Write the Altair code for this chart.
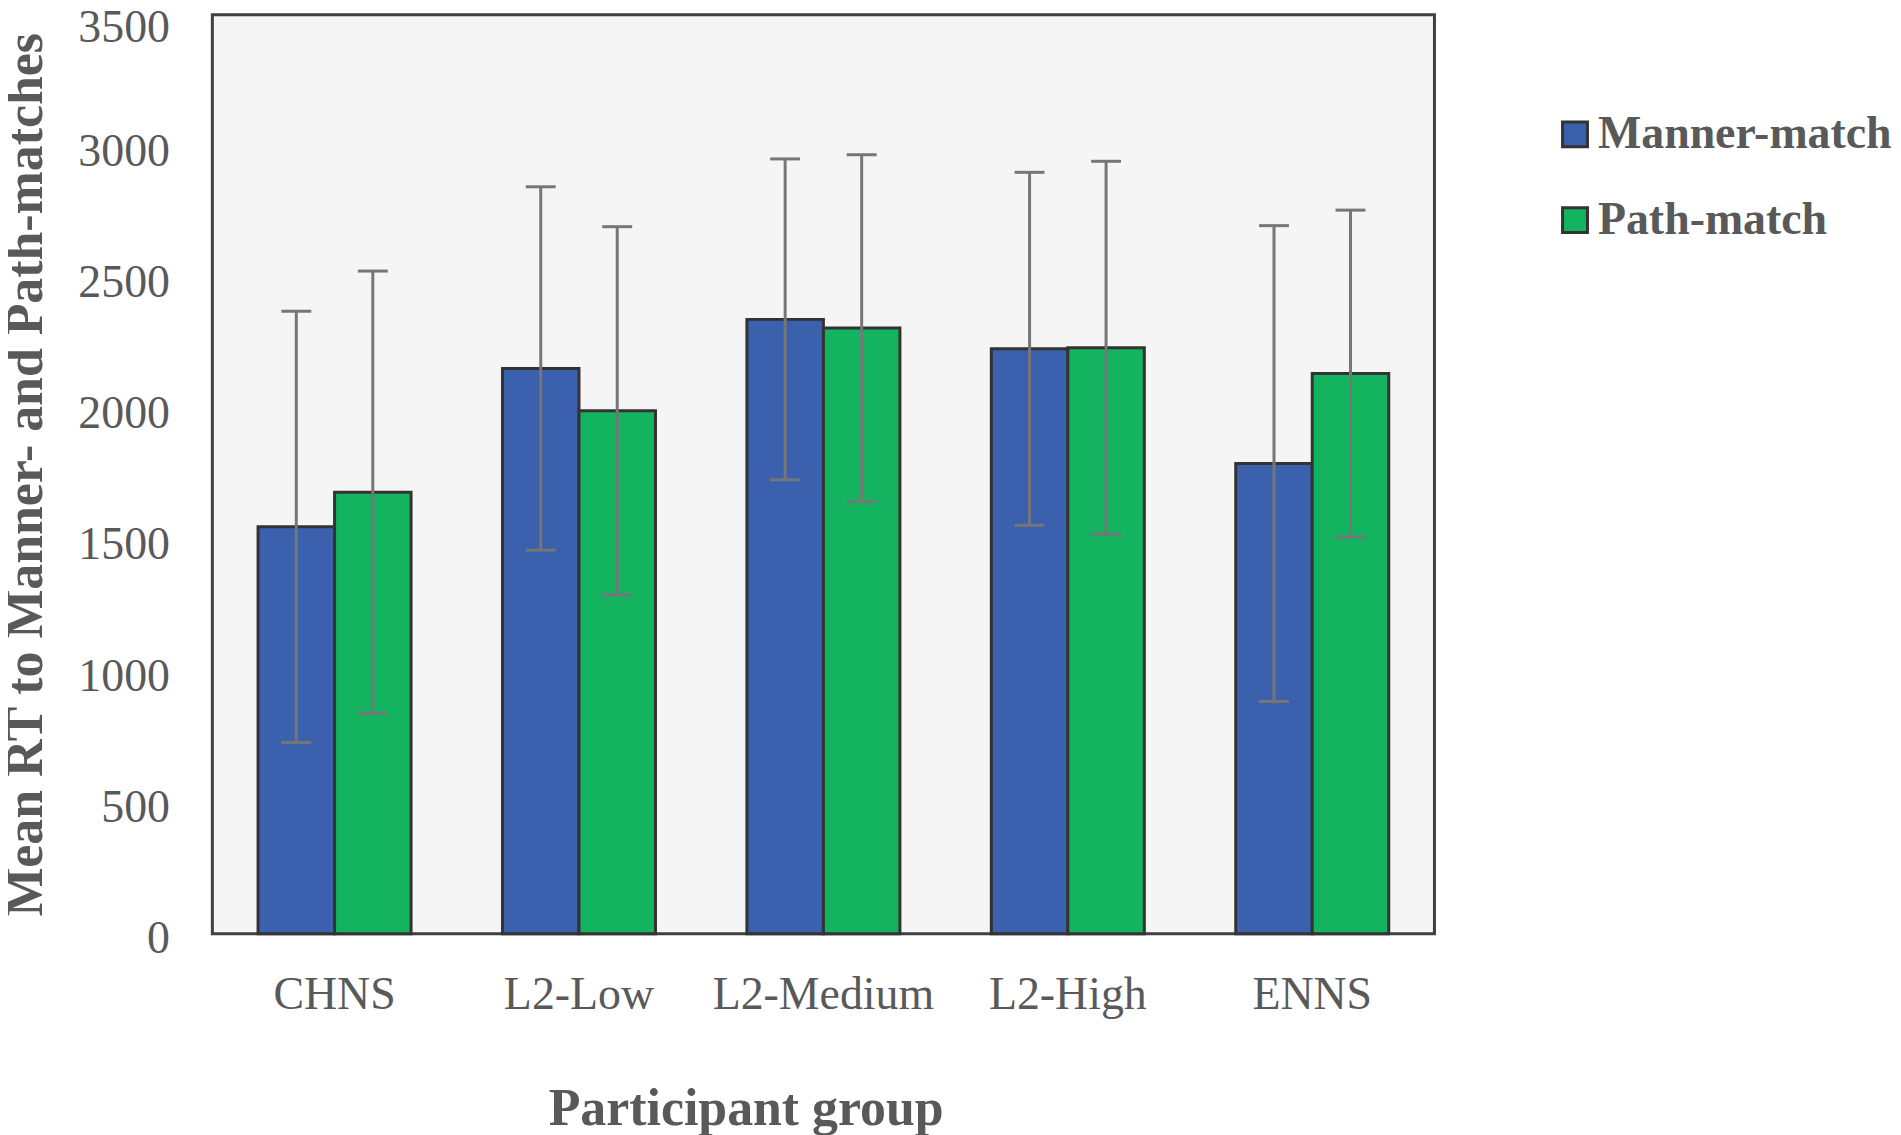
import altair as alt
import pandas as pd

groups = ["CHNS", "L2-Low", "L2-Medium", "L2-High", "ENNS"]
conditions = ["Manner-match", "Path-match"]
manner_mean = [1550, 2153, 2340, 2228, 1791]
manner_err = [821, 692, 611, 672, 906]
path_mean = [1682, 1992, 2307, 2232, 2134]
path_err = [842, 701, 660, 710, 622]
y_ticks = [0, 500, 1000, 1500, 2000, 2500, 3000, 3500]

rows = []
for i, g in enumerate(groups):
    rows.append(dict(group=g, cond=conditions[0], mean=manner_mean[i],
                     low=manner_mean[i] - manner_err[i], high=manner_mean[i] + manner_err[i]))
    rows.append(dict(group=g, cond=conditions[1], mean=path_mean[i],
                     low=path_mean[i] - path_err[i], high=path_mean[i] + path_err[i]))
df = pd.DataFrame(rows)

SERIF = "Liberation Serif"
TXT = "#595959"
ERR = "#767676"
Y_TITLE = "Mean RT to Manner- and Path-matches"
X_TITLE = "Participant group"

xscale = alt.Scale(domain=groups, paddingInner=0.374, paddingOuter=0.187)
xoff = alt.XOffset("cond:N", sort=conditions, scale=alt.Scale(domain=conditions, paddingInner=0, paddingOuter=0))
yscale = alt.Scale(domain=[0, 3500], nice=False, zero=True)

x_axis = alt.Axis(title=X_TITLE, labelAngle=0, labelFont=SERIF,
                  labelFontSize=46, labelColor=TXT, labelPadding=39, ticks=False,
                  domain=False, titleFont=SERIF, titleFontSize=52, titleFontWeight="bold",
                  titleColor=TXT, titlePadding=66, labelLimit=400,
                  titleX=535, titleAlign="center")
y_axis = alt.Axis(title=Y_TITLE, values=y_ticks, format="d",
                  grid=False, ticks=False, domain=False, labelFont=SERIF,
                  labelFontSize=46, labelColor=TXT, labelPadding=43,
                  labelOffset={"expr": "datum.value >= 3500 ? 13 : 5"},
                  titleFont=SERIF, titleFontSize=52, titleFontWeight="bold",
                  titleColor=TXT, titlePadding=25)

X = alt.X("group:N", sort=groups, scale=xscale, axis=x_axis, title=X_TITLE)

base = alt.Chart(df)

bars = base.mark_bar(stroke="#333333", strokeWidth=3, opacity=1).encode(
    x=X,
    xOffset=xoff,
    y=alt.Y("mean:Q", scale=yscale, axis=y_axis, title=Y_TITLE),
    color=alt.Color("cond:N", sort=conditions,
                    scale=alt.Scale(domain=conditions, range=["#3b60ad", "#14b35f"]),
                    legend=alt.Legend(title=None, orient="none", legendX=1344, legendY=97,
                                      direction="vertical", symbolType="square",
                                      symbolSize=625, symbolStrokeWidth=3,
                                      symbolStrokeColor="#333333", symbolOpacity=1,
                                      labelFont=SERIF, labelFontSize=46, labelFontWeight="bold",
                                      labelColor=TXT, labelOffset=0, rowPadding=40,
                                      padding=0, labelLimit=500)),
)

rules = base.mark_rule(color=ERR, strokeWidth=3).encode(
    x=X,
    xOffset=xoff,
    y=alt.Y("low:Q", scale=yscale, axis=y_axis, title=Y_TITLE),
    y2="high:Q",
)

caps_hi = base.mark_tick(color=ERR, thickness=3, size=30, opacity=1).encode(
    x=X,
    xOffset=xoff,
    y=alt.Y("high:Q", scale=yscale, axis=y_axis, title=Y_TITLE),
)

caps_lo = base.mark_tick(color=ERR, thickness=3, size=30, opacity=1).encode(
    x=X,
    xOffset=xoff,
    y=alt.Y("low:Q", scale=yscale, axis=y_axis, title=Y_TITLE),
)

chart = alt.layer(bars, rules, caps_hi, caps_lo).properties(
    width=1226, height=922,
    autosize=alt.AutoSizeParams(type="none"),
    padding={"left": 205, "top": 5, "right": 460, "bottom": 200},
    background="white",
).configure_view(
    fill="#f4f5f4", stroke="#404040", strokeWidth=3
)

chart.save("out.html", embed_options={"renderer": "svg", "actions": False})
